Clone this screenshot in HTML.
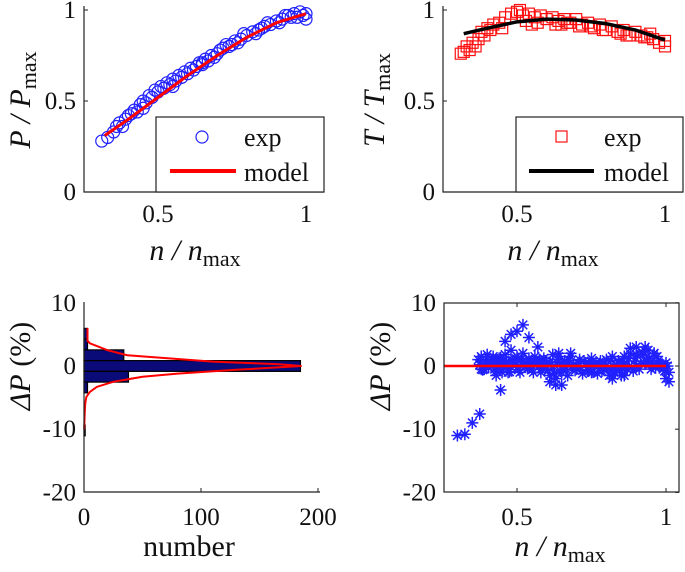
<!DOCTYPE html>
<html><head><meta charset="utf-8">
<style>
html,body{margin:0;padding:0;background:#fff;}
svg{display:block;font-family:"Liberation Serif",serif;}
</style></head>
<body>
<svg id="chart" width="685" height="572" viewBox="0 0 685 572" xmlns="http://www.w3.org/2000/svg"></svg>
<script>
// ---- data: panel A (P/Pmax) ----
const pExpN = [0.31,0.33,0.35,0.36,0.37,0.38,0.39,0.40,0.41,0.42,0.43,0.44,0.45,0.46,0.47,0.48,0.49,0.50,0.51,0.52,0.53,0.54,0.55,0.56,0.57,0.58,0.59,0.60,0.61,0.62,0.63,0.64,0.65,0.66,0.67,0.68,0.69,0.70,0.72,0.74,0.76,0.78,0.80,0.82,0.84,0.86,0.88,0.90,0.92,0.94,0.96,0.97,0.98,0.99,1.00,1.00,0.45,0.55,0.65,0.75,0.85,0.95,0.71,0.73,0.77,0.79,0.83,0.87,0.91,0.93];
const pExpV = [0.28,0.30,0.33,0.36,0.38,0.36,0.40,0.42,0.43,0.45,0.44,0.48,0.50,0.49,0.53,0.52,0.56,0.55,0.58,0.57,0.60,0.59,0.62,0.61,0.64,0.63,0.66,0.65,0.68,0.67,0.69,0.71,0.70,0.73,0.72,0.75,0.74,0.76,0.79,0.80,0.83,0.84,0.86,0.88,0.89,0.91,0.92,0.94,0.95,0.97,0.98,0.96,0.99,0.97,0.95,0.98,0.46,0.58,0.71,0.81,0.90,0.96,0.78,0.81,0.82,0.87,0.87,0.93,0.93,0.97];
const pModN = [0.32,0.40,0.50,0.60,0.70,0.80,0.90,1.00];
const pModV = [0.31,0.40,0.52,0.64,0.75,0.85,0.93,0.98];
// ---- data: panel B (T/Tmax) ----
const tExpN = [0.31,0.32,0.33,0.34,0.35,0.36,0.37,0.38,0.39,0.40,0.42,0.44,0.46,0.48,0.50,0.51,0.52,0.54,0.56,0.58,0.60,0.62,0.64,0.66,0.68,0.70,0.72,0.74,0.76,0.78,0.80,0.82,0.84,0.86,0.88,0.90,0.92,0.94,0.96,0.98,1.00,1.00,0.45,0.55,0.65,0.75,0.85,0.95,0.41,0.53,0.57,0.63,0.67,0.71,0.79,0.87,0.93];
const tExpV = [0.76,0.77,0.80,0.78,0.82,0.80,0.84,0.88,0.86,0.90,0.92,0.93,0.96,0.98,0.99,1.00,0.97,0.98,0.96,0.97,0.95,0.96,0.94,0.95,0.93,0.95,0.92,0.93,0.90,0.92,0.89,0.91,0.88,0.89,0.86,0.88,0.86,0.85,0.84,0.82,0.80,0.83,0.90,0.92,0.92,0.91,0.87,0.87,0.89,0.94,0.93,0.92,0.93,0.91,0.89,0.86,0.85];
const tModN = [0.32,0.40,0.50,0.60,0.70,0.80,0.90,1.00];
const tModV = [0.87,0.90,0.935,0.95,0.945,0.925,0.89,0.835];
// ---- data: panel C (histogram) ----
const binCenters = [5.1,3.4,1.7,0,-1.7,-3.4,-10.2];
const binCounts  = [3,3,34,185,38,3,1];
const fitDP    = [6,4,3.6,2.5,1.7,0.7,0.3,0,-0.6,-1.2,-1.7,-2.5,-3.3,-4.1,-4.9,-6,-8,-10];
const fitCount = [3,3,5,20,37,110,165,186,130,80,50,25,11,5,2,1,0.5,0.2];
// ---- data: panel D (deviation scatter) ----
const dN = [0.30,0.325,0.35,0.375,0.43,0.445,0.46,0.45,0.48,0.50,0.52,0.54,0.57,0.61,0.63,0.65,0.64,0.68,0.75,0.82,0.86,0.88,0.90,0.93,0.96,1.00,1.01,
 0.37,0.38,0.39,0.40,0.41,0.42,0.43,0.44,0.45,0.46,0.47,0.48,0.49,0.50,0.51,0.52,0.53,0.54,0.55,0.56,0.57,0.58,0.59,0.60,0.61,0.62,0.63,0.64,0.65,0.66,0.67,0.68,0.69,0.70,0.71,0.72,0.73,0.74,0.75,0.76,0.77,0.78,0.79,0.80,0.81,0.82,0.83,0.84,0.85,0.86,0.87,0.88,0.89,0.90,0.91,0.92,0.93,0.94,0.95,0.96,0.97,0.98,0.99,1.00,1.01,
 0.375,0.385,0.395,0.405,0.415,0.425,0.435,0.445,0.455,0.465,0.475,0.485,0.495,0.505,0.515,0.525,0.535,0.545,0.555,0.565,0.575,0.585,0.595,0.605,0.615,0.625,0.635,0.645,0.655,0.665,0.675,0.685,0.695,0.705,0.715,0.725,0.735,0.745,0.755,0.765,0.775,0.785,0.795,0.805,0.815,0.825,0.835,0.845,0.855,0.865,0.875,0.885,0.895,0.905,0.915,0.925,0.935,0.945,0.955,0.965,0.975,0.985,0.995,1.005,
 0.38,0.40,0.42,0.44,0.46,0.48,0.50,0.52,0.54,0.56,0.58,0.60,0.62,0.66,0.70,0.74,0.78,0.82,0.86,0.90,0.94,0.98];
const dV = [-11,-10.8,-9,-7.6,-1.5,-3.8,3.9,-1,5,5.5,6.5,4.5,3,-2.5,-3,-3,2,2,-1,-2,-1.5,2.8,3,3,2,-2,-2.5,
 1,1.5,-0.5,1.8,0.5,1.5,-0.8,1.2,0.2,1.8,-1,2.5,0.8,1.5,-1,2,0.5,1.2,-0.5,1.5,0.3,-1,1.2,0.5,-1.5,1.8,-2,1.5,-1,0.8,-1.5,1.5,0.3,-0.5,1,-1.2,0.5,-0.8,1.2,0.2,-1.2,0.8,-0.5,1,-1.5,1.5,-1,0.8,-1.5,1.5,-0.5,2,-0.8,1.8,-0.5,2.2,0.3,2.5,-0.5,2,1.5,0.2,-0.5,0.5,-1,
 0.2,-0.6,0.8,-0.2,1.0,-0.5,0.4,1.3,-0.3,0.6,-0.9,0.9,0.1,-0.6,1.1,0.3,-0.4,0.7,-1.0,0.5,1.0,-0.3,0.8,-0.7,0.2,-1.2,0.6,-0.8,0.3,-0.5,0.9,0.0,-0.7,0.5,-0.2,0.8,-0.6,0.3,-0.9,0.6,0.1,-0.8,0.4,-0.4,0.9,-1.0,0.2,-0.6,0.7,-0.3,1.2,-0.2,0.8,1.6,0.4,1.9,0.6,1.2,0.3,-0.3,0.9,0.2,-0.8,0.0,
 -0.5,0.3,1,-0.3,0.5,-0.2,1,0.2,-0.3,0.8,-0.5,0.6,0,0.5,-0.3,0.4,0.2,-0.5,0.5,0,0.8,0];
const tickLabelsP = ["0","0.5","1"];

// ---- helpers ----
const svg = document.getElementById('chart');
const NS = "http://www.w3.org/2000/svg";
function mk(tag, attrs, parent){const e=document.createElementNS(NS,tag);for(const k in attrs)e.setAttribute(k,attrs[k]);(parent||svg).appendChild(e);return e;}
function txt(s,x,y,size,anchor,parent,style){const t=mk('text',{x:x,y:y,'font-size':size,'text-anchor':anchor||'middle',fill:'#111'},parent);if(style)t.setAttribute('style',style);t.textContent=s;return t;}
const TK=25;

// scales
const xL = v=>84+(v-0.25)*296, xR = v=>443+(v-0.25)*296;
const yTop = v=>192-v*182;
const xH = c=>84+c*1.17, yB = v=>366-v*6.32;
const xD = v=>517+(v-0.5)*298;

// ---- Panel A ----
const gA = mk('g',{});

pExpN.forEach((n,i)=>{const c=mk('circle',{cx:xL(n),cy:yTop(pExpV[i]),r:6,fill:'none',stroke:'#2020ff','stroke-width':1.2},gA);
});
const pl=mk('polyline',{points:pModN.map((n,i)=>xL(n)+','+yTop(pModV[i])).join(' '),fill:'none',stroke:'#ff0000','stroke-width':3},gA);

mk('path',{d:'M84,6 V192 H324',fill:'none',stroke:'#222','stroke-width':1.2},gA);
[0,0.5,1].forEach((v,i)=>{mk('line',{x1:84,x2:88,y1:yTop(v),y2:yTop(v),stroke:'#222'},gA);txt(tickLabelsP[i],76,yTop(v)+8,TK,'end',gA);});
[0.5,1].forEach(v=>{mk('line',{x1:xL(v),x2:xL(v),y1:192,y2:188,stroke:'#222'},gA);txt(String(v),xL(v),222,TK,'middle',gA);});
// legend A
const lgA=mk('g',{},gA);
mk('rect',{x:156,y:117,width:168,height:75,fill:'#fff',stroke:'#222','stroke-width':1.2},lgA);
mk('circle',{cx:202,cy:137,r:6,fill:'none',stroke:'#2020ff','stroke-width':1.2},lgA);
txt('exp',244,146,26,'start',lgA);
mk('line',{x1:170,x2:236,y1:171,y2:171,stroke:'#ff0000','stroke-width':4},lgA);
txt('model',244,181,26,'start',lgA);
const yla=txt('',0,0,30,'middle',gA,'font-style:italic');yla.setAttribute('transform','translate(30,100) rotate(-90)');
yla.innerHTML='P / P<tspan font-size="22" font-style="normal" dy="6">max</tspan>';

const xla=txt('',195,260,30,'middle',gA,'font-style:italic');xla.innerHTML='n / n<tspan font-size="22" font-style="normal" dy="6">max</tspan>';

// ---- Panel B ----
const gB=mk('g',{});
tExpN.forEach((n,i)=>{const r=mk('rect',{x:xR(n)-5.5,y:yTop(tExpV[i])-5.5,width:11,height:11,fill:'none',stroke:'#ff1010','stroke-width':1.2},gB);
});
const tl=mk('polyline',{points:tModN.map((n,i)=>xR(n)+','+yTop(tModV[i])).join(' '),fill:'none',stroke:'#000','stroke-width':3.5},gB);

mk('path',{d:'M443,6 V192 H683',fill:'none',stroke:'#222','stroke-width':1.2},gB);
[0,0.5,1].forEach((v,i)=>{mk('line',{x1:443,x2:447,y1:yTop(v),y2:yTop(v),stroke:'#222'},gB);txt(tickLabelsP[i],435,yTop(v)+8,TK,'end',gB);});
[0.5,1].forEach(v=>{mk('line',{x1:xR(v),x2:xR(v),y1:192,y2:188,stroke:'#222'},gB);txt(String(v),xR(v),222,TK,'middle',gB);});
const lgB=mk('g',{},gB);
mk('rect',{x:516,y:117,width:167,height:75,fill:'#fff',stroke:'#222','stroke-width':1.2},lgB);
mk('rect',{x:556,y:131,width:11,height:11,fill:'none',stroke:'#ff1010','stroke-width':1.2},lgB);
txt('exp',604,146,26,'start',lgB);
mk('line',{x1:529,x2:594,y1:171,y2:171,stroke:'#000','stroke-width':4},lgB);
txt('model',604,181,26,'start',lgB);
const ylb=txt('',0,0,30,'middle',gB,'font-style:italic');ylb.setAttribute('transform','translate(384,100) rotate(-90)');
ylb.innerHTML='T / T<tspan font-size="22" font-style="normal" dy="6">max</tspan>';
const xlb=txt('',553,260,30,'middle',gB,'font-style:italic');xlb.innerHTML='n / n<tspan font-size="22" font-style="normal" dy="6">max</tspan>';

// ---- Panel C ----
const gC=mk('g',{});
binCenters.forEach((c,i)=>{const b=mk('rect',{x:xH(0),y:yB(c+0.85),width:binCounts[i]*1.17,height:yB(c-0.85)-yB(c+0.85),fill:'#0a0a78',stroke:'#000','stroke-width':1.2},gC);
});
const fl=mk('polyline',{points:fitDP.map((d,i)=>xH(fitCount[i])+','+yB(d)).join(' '),fill:'none',stroke:'#ff0000','stroke-width':2},gC);

mk('path',{d:'M84,302 V492 H320',fill:'none',stroke:'#222','stroke-width':1.2},gC);
[10,0,-10,-20].forEach(v=>{txt(String(v),76,yB(v)+8,TK,'end',gC);});
[0,100,200].forEach(v=>{mk('line',{x1:xH(v),x2:xH(v),y1:492,y2:488,stroke:'#222'},gC);txt(String(v),xH(v),525,TK,'middle',gC);});
const ylc=txt('',0,0,30,'middle',gC);ylc.setAttribute('transform','translate(30,366) rotate(-90)');
ylc.innerHTML='<tspan font-style="italic">ΔP</tspan> (%)';
txt('number',189,556,30,'middle',gC);

// ---- Panel D ----
const gD=mk('g',{});
dN.forEach((n,i)=>{const x=xD(n),y=yB(dV[i]),r=6;const s=mk('path',{d:`M${x-r},${y}H${x+r}M${x},${y-r}V${y+r}M${x-4.3},${y-4.3}L${x+4.3},${y+4.3}M${x-4.3},${y+4.3}L${x+4.3},${y-4.3}`,stroke:'#2020ff','stroke-width':1.5,fill:'none'},gD);
});
const zl=mk('line',{x1:444,x2:xD(1),y1:yB(0),y2:yB(0),stroke:'#ff0000','stroke-width':2.5},gD);

mk('rect',{x:444,y:303,width:235,height:189,fill:'none',stroke:'#222','stroke-width':1.2},gD);
[10,0,-10,-20].forEach(v=>{mk('line',{x1:675,x2:679,y1:yB(v),y2:yB(v),stroke:'#222'},gD);txt(String(v),436,yB(v)+8,TK,'end',gD);});
[0.5,1].forEach(v=>{mk('line',{x1:xD(v),x2:xD(v),y1:492,y2:488,stroke:'#222'},gD);mk('line',{x1:xD(v),x2:xD(v),y1:303,y2:307,stroke:'#222'},gD);txt(String(v),xD(v),525,TK,'middle',gD);});
const yld=txt('',0,0,30,'middle',gD);yld.setAttribute('transform','translate(390,366) rotate(-90)');
yld.innerHTML='<tspan font-style="italic">ΔP</tspan> (%)';
const xld=txt('',560,556,30,'middle',gD,'font-style:italic');xld.innerHTML='n / n<tspan font-size="22" font-style="normal" dy="6">max</tspan>';
</script>
</body></html>
